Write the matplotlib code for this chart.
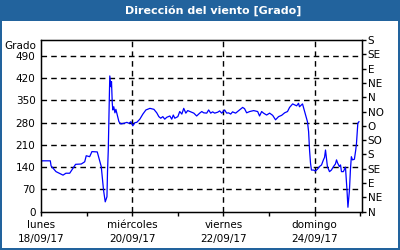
import matplotlib
matplotlib.use("Agg")
import matplotlib.pyplot as plt
from matplotlib.patches import Rectangle

# Hours since lunes 18/09/17 00:00 and wind direction in degrees
hours = [0.0, 0.3, 4.9, 5.3, 7.9, 11.6, 13.1, 15.1, 18.2, 21.2, 23.0, 23.8, 25.6, 26.8,
         29.6, 30.5, 31.7, 32.9, 33.8, 34.7, 35.0, 35.4, 35.7, 36.0, 36.2, 36.8, 37.1,
         37.5, 37.8, 38.3, 38.9, 39.4, 39.9, 41.0, 42.0, 43.6, 45.2, 46.2, 47.3, 48.3,
         49.4, 50.4, 52.0, 53.6, 55.2, 57.3, 59.4, 60.9, 62.0, 63.0, 64.1, 65.1, 66.2,
         67.8, 68.8, 69.6, 70.4, 72.0, 73.0, 74.1, 75.1, 76.2, 77.2, 78.8, 80.4, 81.9,
         83.5, 84.6, 85.6, 87.2, 88.2, 89.3, 90.3, 91.4, 93.0, 94.0, 95.1, 96.6, 97.7,
         98.7, 99.8, 100.8, 102.4, 104.5, 106.1, 107.1, 108.2, 109.8, 111.9, 114.0,
         115.0, 116.1, 117.1, 118.7, 120.3, 121.9, 123.4, 125.0, 126.6, 128.2, 129.7,
         130.8, 132.4, 133.4, 134.5, 135.5, 136.0, 137.6, 140.2, 140.8, 141.3, 141.8,
         142.3, 143.4, 144.4, 145.5, 146.5, 147.6, 148.6, 149.2, 149.7, 150.2, 150.7,
         151.8, 152.8, 153.9, 154.9, 155.5, 156.0, 157.0, 157.6, 158.1, 159.1, 160.2,
         161.0, 161.5, 162.3, 162.8, 163.3, 163.9, 164.9, 165.6, 166.0, 166.7, 167.3]
grado = [144, 160, 160, 144, 126, 115, 121, 121, 149, 150, 157, 176, 173, 189,
         188, 168, 142, 68, 31, 47, 126, 194, 289, 373, 427, 393, 409,
         341, 320, 330, 311, 322, 310, 283, 276, 278, 281, 278, 283, 270,
         280, 281, 291, 307, 320, 325, 322, 311, 299, 294, 299, 291, 297,
         301, 291, 304, 294, 299, 315, 307, 325, 310, 318, 314, 310, 301,
         310, 315, 311, 310, 320, 310, 314, 310, 313, 317, 310, 320, 310,
         311, 307, 314, 310, 320, 328, 324, 311, 315, 318, 315,
         301, 315, 310, 304, 310, 303, 289, 299, 303, 311, 315,
         328, 339, 336, 333, 341, 330, 339, 283, 252, 194, 153,
         131, 131, 128, 134, 142, 147, 163, 171, 194, 168, 142,
         126, 131, 142, 150, 163, 154, 142, 147, 126, 126, 140,
         68, 14, 68, 131, 173, 163, 165, 194, 215, 278, 283]

day_ticks = [0, 48, 96, 144]
day_labels = ["lunes\n18/09/17", "miércoles\n20/09/17", "viernes\n22/09/17", "domingo\n24/09/17"]
left_ticks = [0, 70, 140, 210, 280, 350, 420, 490]
right_ticks = [0, 45, 90, 135, 180, 225, 270, 315, 360, 405, 450, 495, 540]
right_labels = ["N", "NE", "E", "SE", "S", "SO", "O", "NO", "N", "NE", "E", "SE", "S"]

blue = "#22639d"
plt.rcParams["font.family"] = "DejaVu Sans"
plt.rcParams["font.size"] = 7.5

fig = plt.figure(figsize=(4, 2.5), dpi=100, facecolor=blue)
# white panel inside the blue frame
fig.patches.append(Rectangle((2 / 400, 2 / 250), 396 / 400, 227 / 250,
                             transform=fig.transFigure, facecolor="white",
                             edgecolor="none", zorder=-5))
fig.text(213 / 400, 1 - 10.5 / 250, "Dirección del viento [Grado]", color="white",
         fontsize=8, fontweight="bold", ha="center", va="center")

ax = fig.add_axes([41 / 400, 1 - 211.7 / 250, 321 / 400, 171.7 / 250])
ax.set_facecolor("white")
ax.plot(hours, grado, color="#0000ff", linewidth=0.9)
ax.set_xlim(0, 168.9)
ax.set_ylim(0, 540)

ax.set_yticks(left_ticks)
ax.tick_params(axis="y", length=0, pad=4)
ax.set_xticks(day_ticks)
ax.set_xticklabels(day_labels, linespacing=1.55)
ax.set_xticks([24, 72, 120, 168], minor=True)
ax.tick_params(axis="x", which="both", length=3, width=1, direction="out", pad=3)

for v in left_ticks[1:]:
    ax.axhline(v, color="black", linestyle=(0, (4, 3)), linewidth=1, zorder=1)
for d in day_ticks[1:]:
    ax.axvline(d, color="black", linestyle=(0, (4, 3)), linewidth=1, zorder=1)

for s in ax.spines.values():
    s.set_linewidth(1)

ax2 = ax.twinx()
ax2.set_ylim(0, 540)
ax2.set_yticks(right_ticks)
ax2.set_yticklabels(right_labels)
ax2.tick_params(axis="y", length=3, width=1, pad=1)

fig.text(36 / 400, 1 - 46 / 250, "Grado", ha="right", va="center")

plt.savefig("out.png", dpi=100, facecolor=blue)
